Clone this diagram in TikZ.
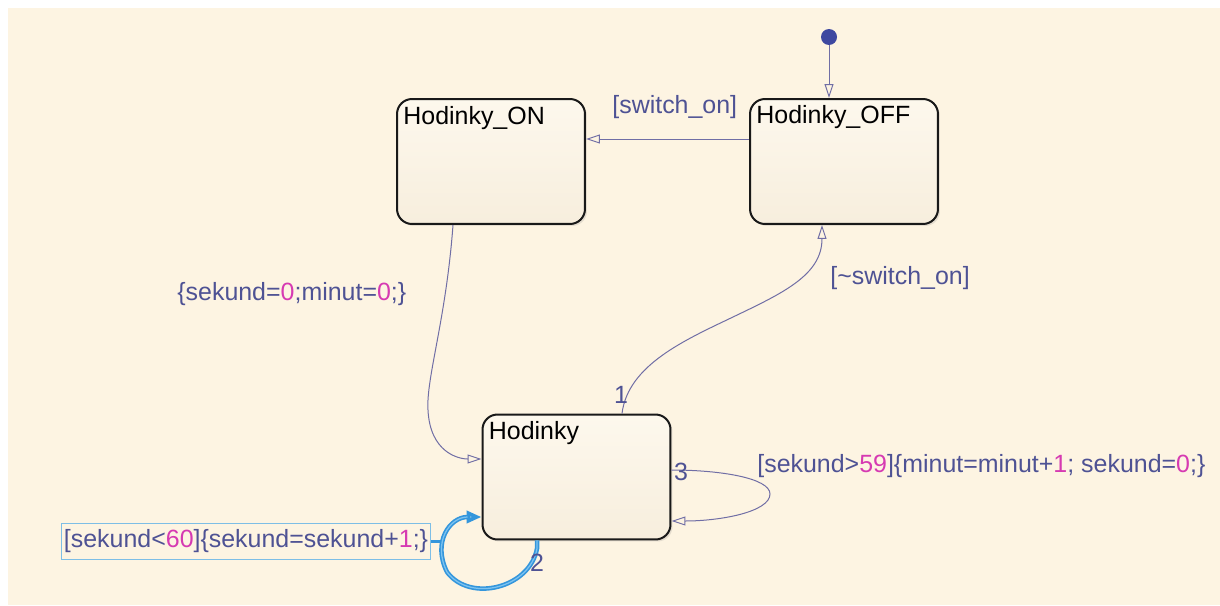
\documentclass[tikz,border=0pt]{standalone}
\usepackage{fontspec}
\setmainfont{Liberation Sans}
\usetikzlibrary{arrows.meta,calc,shadows}

\definecolor{canvas}{RGB}{253,244,226}
\definecolor{statetop}{RGB}{253,248,237}
\definecolor{statebot}{RGB}{247,238,221}
\definecolor{stateedge}{RGB}{25,25,25}
\definecolor{labeltext}{RGB}{78,82,148}
\definecolor{numcol}{RGB}{214,58,178}
\definecolor{transline}{RGB}{112,110,165}
\definecolor{initdot}{RGB}{62,72,160}
\definecolor{hlblue}{RGB}{52,150,220}
\definecolor{hllight}{RGB}{125,195,240}
\definecolor{boxcol}{RGB}{125,190,230}

\newcommand\numc[1]{\textcolor{numcol}{#1}}

\begin{document}
\begin{tikzpicture}[x=0.02cm,y=-0.02cm,
  every node/.style={font=\fontsize{14.2pt}{17pt}\selectfont},
  state/.style={draw=stateedge, line width=0.04cm, rounded corners=0.3cm,
    minimum width=3.76cm, minimum height=2.5cm, inner sep=0,
    top color=statetop, bottom color=statebot,
    drop shadow={shadow xshift=0.04cm, shadow yshift=-0.04cm, opacity=0.2}},
  title/.style={anchor=base west, inner sep=0, text=black},
  guard/.style={anchor=base west, inner sep=0, text=labeltext},
  order/.style={inner sep=0, text=labeltext},
  trans/.style={draw=transline, line width=0.02cm,
    -{Triangle[open, length=0.28cm, width=0.18cm]}},
  hlouter/.style={draw=hlblue, line width=0.09cm,
    -{Triangle[open, length=0.3cm, width=0.24cm]}},
  hlinner/.style={draw=hllight, line width=0.025cm},
]
% canvas with its white margin
\fill[white] (0,0) rectangle (1220,605);
\fill[canvas] (8,8) rectangle (1220,605);
\useasboundingbox (0,0) rectangle (1220,605);

% states
\node[state] (on)  at (491,161.5) {};
\node[state] (off) at (844,161.5) {};
\node[state] (hod) at (576.5,477) {};
\node[title] (ontitle)  at ($(on.north west)+(7,26)$)  {Hodinky\_ON};
\node[title] (offtitle) at ($(off.north west)+(7,25)$) {Hodinky\_OFF};
\node[title] (hodtitle) at ($(hod.north west)+(7,26)$) {Hodinky};

% default transition
\node[circle, fill=initdot, inner sep=0, minimum size=0.32cm] (init) at (829,37) {};
\draw[trans] (init) -- (init |- off.north);

% Hodinky_OFF -> Hodinky_ON
\draw[trans] ($(off.west)+(0,-22.5)$) -- ($(on.east)+(0,-22.5)$);
\node[guard] (gon) at (612,113) {[switch\_on]};

% Hodinky_ON -> Hodinky
\draw[trans] ($(on.south)+(-38,0)$) .. controls (446,320) and (426,378) .. (428,410)
  .. controls (430,452) and (458,459) .. ($(hod.west)+(0,-18)$);
\node[guard] (aon) at (177,300) {\{sekund=\numc{0};minut=\numc{0};\}};

% Hodinky -> Hodinky_OFF
\draw[trans] ($(hod.north)+(45.5,0)$) .. controls (628,365) and (685,340) .. (733,317)
  .. controls (783,293) and (822,275) .. ($(off.south)+(-22,0)$);
\node[guard] (goff) at (830,284) {[\textasciitilde switch\_on]};
\node[order] (o1) at (621,395) {1};

% self loop 3
\draw[trans] ($(hod.east)+(0,-7)$) .. controls (720,470) and (770,478) .. (770,494)
  .. controls (770,512) and (720,521) .. ($(hod.east)+(0,44)$);
\node[order] (o3) at (681,472) {3};
\node[guard] (g3) at (757,472) {[sekund>\numc{59}]\{minut=minut+\numc{1}; sekund=\numc{0};\}};

% self loop 2 (highlighted)
\coordinate (s2) at ($(hod.south)+(-39.5,0)$);
\coordinate (e2) at ($(hod.west)+(0,40)$);
\draw[hlouter] (s2) -- ++(0,8) .. controls (530,588) and (470,603) .. (447,572)
  .. controls (432,542) and (450,517) .. (e2);
\draw[hlinner] (s2) -- ++(0,8) .. controls (530,588) and (470,603) .. (447,572)
  .. controls (432,542) and (450,517) .. ($(e2)+(-14,0)$);
\node[order] (o2) at (537,563) {2};
\node[draw=boxcol, line width=0.02cm, inner xsep=0.05cm, inner ysep=0,
  minimum height=0.72cm, text=labeltext] (lbl2) at (246,541)
  {[sekund<\numc{60}]\{sekund=sekund+\numc{1};\}};
\coordinate (l2c) at (441,541);
\draw[draw=hlblue, line width=0.06cm] (lbl2.east) -- (l2c);
\end{tikzpicture}
\end{document}
